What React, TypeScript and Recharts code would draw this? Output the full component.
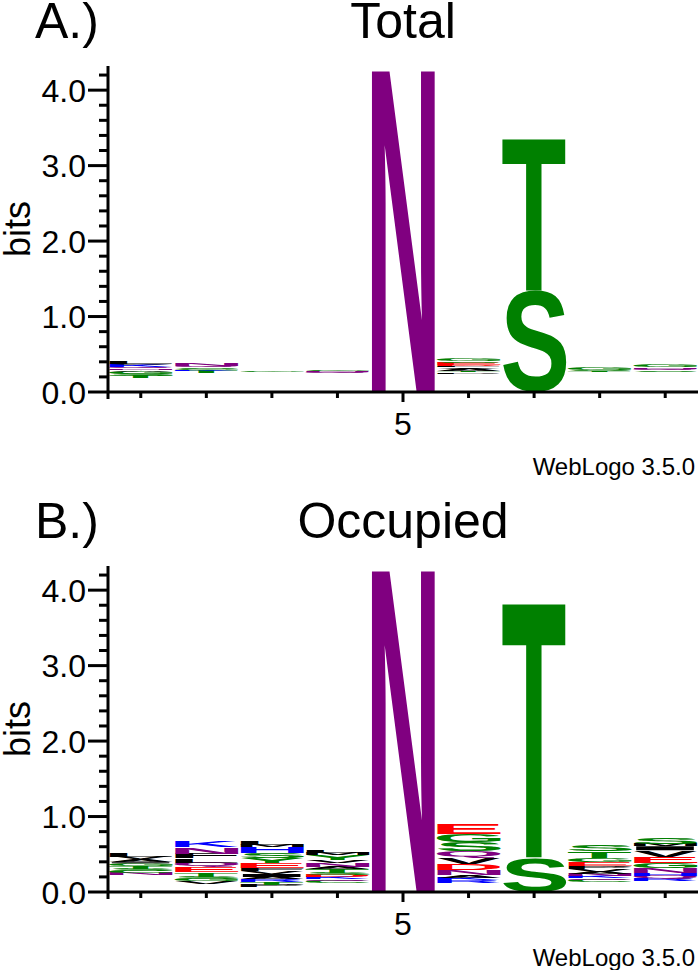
import React from 'react';
import { BarChart, Bar, XAxis, YAxis } from 'recharts';

const positions = [1, 2, 3, 4, 5, 6, 7, 8, 9];
const labelledPositions = [5];
const yMajorTicks = [0, 1, 2, 3, 4];
const yMinorTicks = [0.2, 0.4, 0.6, 0.8, 1.2, 1.4, 1.6, 1.8, 2.2, 2.4, 2.6, 2.8, 3.2, 3.4, 3.6, 3.8, 4.2];
const maxBits = 4.32;

// letters per position, listed top -> bottom as they appear in the logo (bits).
// '' is the rest of the stack: residues too thin to be drawn.
const totalStacks: [string, number][][] = [
  [['L', 0.026], ['V', 0.013], ['K', 0.026], ['Q', 0.02], ['N', 0.02], ['A', 0.02], ['G', 0.026], ['S', 0.026], ['T', 0.033], ['', 0.185]],
  [['N', 0.026], ['Q', 0.013], ['S', 0.02], ['G', 0.02], ['K', 0.013], ['T', 0.026], ['', 0.25]],
  [['G', 0.02], ['', 0.27]],
  [['G', 0.013], ['N', 0.013], ['Q', 0.02], ['', 0.245]],
  [['N', 4.32]],
  [['G', 0.033], ['S', 0.02], ['E', 0.026], ['D', 0.013], ['L', 0.02], ['V', 0.02], ['A', 0.026], ['T', 0.02], ['P', 0.02], ['', 0.24]],
  [['T', 2.03], ['S', 1.35]],
  [['G', 0.026], ['S', 0.013], ['T', 0.013], ['', 0.265]],
  [['G', 0.026], ['N', 0.02], ['Q', 0.02], ['S', 0.02], ['', 0.27]],
];

const occupiedStacks: [string, number][][] = [
  [['L', 0.055], ['V', 0.025], ['A', 0.04], ['I', 0.015], ['G', 0.04], ['T', 0.04], ['S', 0.025], ['C', 0.025], ['N', 0.025], ['', 0.225]],
  [['K', 0.08], ['N', 0.08], ['F', 0.065], ['L', 0.055], ['Q', 0.065], ['E', 0.065], ['T', 0.055], ['S', 0.03], ['G', 0.03], ['V', 0.035], ['', 0.11]],
  [['L', 0.053], ['M', 0.026], ['H', 0.08], ['S', 0.066], ['Y', 0.066], ['E', 0.066], ['F', 0.04], ['V', 0.04], ['I', 0.04], ['A', 0.026], ['R', 0.04], ['T', 0.04], ['P', 0.026], ['', 0.066]],
  [['L', 0.04], ['M', 0.026], ['Y', 0.066], ['V', 0.04], ['N', 0.053], ['A', 0.026], ['T', 0.053], ['S', 0.026], ['D', 0.026], ['K', 0.026], ['Q', 0.026], ['C', 0.026], ['', 0.12]],
  [['N', 4.32]],
  [['E', 0.13], ['G', 0.1], ['S', 0.12], ['Q', 0.09], ['V', 0.08], ['D', 0.08], ['N', 0.066], ['A', 0.04], ['K', 0.026], ['R', 0.04], ['', 0.12]],
  [['T', 3.41], ['S', 0.46]],
  [['S', 0.08], ['T', 0.09], ['G', 0.053], ['E', 0.053], ['P', 0.04], ['V', 0.04], ['A', 0.026], ['N', 0.026], ['K', 0.026], ['Q', 0.026], ['C', 0.026], ['', 0.13]],
  [['S', 0.09], ['M', 0.026], ['I', 0.053], ['V', 0.09], ['E', 0.08], ['G', 0.066], ['N', 0.066], ['H', 0.04], ['Q', 0.04], ['R', 0.026], ['', 0.146]],
];

// WebLogo "chemistry" colour scheme
const COLORS: Record<string, string> = {
  G: '#008000', S: '#008000', T: '#008000', Y: '#008000', C: '#008000',
  N: '#800080', Q: '#800080',
  K: '#0000FF', R: '#0000FF', H: '#0000FF',
  D: '#FF0000', E: '#FF0000',
  A: '#000000', V: '#000000', L: '#000000', I: '#000000', P: '#000000', W: '#000000', F: '#000000', M: '#000000',
};

const FONT = '"Liberation Sans", Arial, Helvetica, sans-serif';
const LAYERS = 15;

type Metrics = { l: number; r: number; a: number; d: number };
const metricsCache: Record<string, Metrics> = {};

function glyphMetrics(ch: string): Metrics {
  if (!metricsCache[ch]) {
    let m: Metrics = { l: 0, r: 70, a: 72, d: 0 };
    const ctx = document.createElement('canvas').getContext('2d');
    if (ctx) {
      ctx.font = `bold 100px ${FONT}`;
      const t = ctx.measureText(ch);
      if (t.actualBoundingBoxRight + t.actualBoundingBoxLeft > 0) {
        m = {
          l: t.actualBoundingBoxLeft,
          r: t.actualBoundingBoxRight,
          a: t.actualBoundingBoxAscent,
          d: t.actualBoundingBoxDescent,
        };
      }
    }
    metricsCache[ch] = m;
  }
  return metricsCache[ch];
}

function buildRows(stacks: [string, number][][]) {
  return positions.map((pos, i) => {
    const row: any = { pos };
    // bottom of the stack first
    stacks[i]
      .slice()
      .reverse()
      .forEach(([ch, bits], k) => {
        row[`v${k}`] = bits;
        row[`c${k}`] = ch;
      });
    return row;
  });
}

const totalRows = buildRows(totalStacks);
const occupiedRows = buildRows(occupiedStacks);

const renderLetter = (layer: number) => (props: any) => {
  const { x, y, width, height, payload } = props;
  const ch: string = payload ? payload[`c${layer}`] || '' : '';
  if (!ch || !(height > 0) || !(width > 0)) return <g />;
  const m = glyphMetrics(ch);
  const sx = width / (m.l + m.r);
  const sy = height / (m.a + m.d);
  return (
    <text
      transform={`translate(${x},${y}) scale(${sx},${sy}) translate(${m.l},${m.a})`}
      fontFamily={FONT}
      fontWeight="bold"
      fontSize={100}
      fill={COLORS[ch] || '#000'}
    >
      {ch}
    </text>
  );
};

const YTick = (props: any) => {
  const { x, y, payload } = props;
  const v: number = payload.value;
  const major = yMajorTicks.includes(v);
  return (
    <g>
      <line x1={x} x2={x - (major ? 20 : 9)} y1={y} y2={y} stroke="#000" strokeWidth={3} />
      {v === 0 && <line x1={x} x2={x} y1={y} y2={y + 7} stroke="#000" strokeWidth={3} />}
      {major && (
        <text x={x - 22} y={y + 11.5} textAnchor="end" fontSize={32} fontFamily={FONT} fill="#000">
          {v.toFixed(1)}
        </text>
      )}
    </g>
  );
};

const XTick = (props: any) => {
  const { x, y, payload } = props;
  const labelled = labelledPositions.includes(payload.value);
  return (
    <g>
      <line x1={x} x2={x} y1={y} y2={y + (labelled ? 10 : 6)} stroke="#000" strokeWidth={3} />
      {labelled && (
        <text x={x} y={y + 43} textAnchor="middle" fontSize={32} fontFamily={FONT} fill="#000">
          {payload.value}
        </text>
      )}
    </g>
  );
};

const Logo = ({ rows }: { rows: any[] }) => (
  <BarChart
    width={700}
    height={470}
    data={rows}
    margin={{ top: 66, right: 2, bottom: 28, left: 0 }}
    barCategoryGap={1}
  >
    <XAxis
      dataKey="pos"
      type="category"
      height={50}
      tickSize={0}
      tickMargin={0}
      tickLine={false}
      axisLine={{ stroke: '#000', strokeWidth: 3 }}
      tick={<XTick />}
      interval={0}
    />
    <YAxis
      type="number"
      domain={[0, maxBits]}
      allowDataOverflow
      ticks={[...yMajorTicks, ...yMinorTicks].sort((a, b) => a - b)}
      width={108}
      tickSize={0}
      tickMargin={0}
      tickLine={false}
      axisLine={{ stroke: '#000', strokeWidth: 3 }}
      tick={<YTick />}
      interval={0}
    />
    {Array.from({ length: LAYERS }, (_, k) => (
      <Bar
        key={k}
        dataKey={`v${k}`}
        stackId="logo"
        isAnimationActive={false}
        shape={renderLetter(k)}
      />
    ))}
  </BarChart>
);

const Panel = ({ top, tag, title, rows, creditY }: { top: number; tag: string; title: string; rows: any[]; creditY: number }) => (
  <div style={{ position: 'absolute', left: 0, top, width: 700, height: 470 }}>
    <Logo rows={rows} />
    <svg width={700} height={480} style={{ position: 'absolute', left: 0, top: 0, pointerEvents: 'none' }}>
      <text x={35} y={38} fontSize={50} fontFamily={FONT} fill="#000">{tag}</text>
      <text x={403} y={38} fontSize={50} fontFamily={FONT} fill="#000" textAnchor="middle">{title}</text>
      <text
        transform="translate(30,229) rotate(-90)"
        fontSize={36}
        fontFamily={FONT}
        fill="#000"
        textAnchor="middle"
      >
        bits
      </text>
      <text x={695} y={creditY} fontSize={24} fontFamily={FONT} fill="#000" textAnchor="end">WebLogo 3.5.0</text>
    </svg>
  </div>
);

export default function App() {
  return (
    <div style={{ position: 'absolute', left: 0, top: 0, width: 700, height: 970, background: '#fff', overflow: 'hidden' }}>
      <Panel top={0} tag="A.)" title="Total" rows={totalRows} creditY={475} />
      <Panel top={500} tag="B.)" title="Occupied" rows={occupiedRows} creditY={466} />
    </div>
  );
}
